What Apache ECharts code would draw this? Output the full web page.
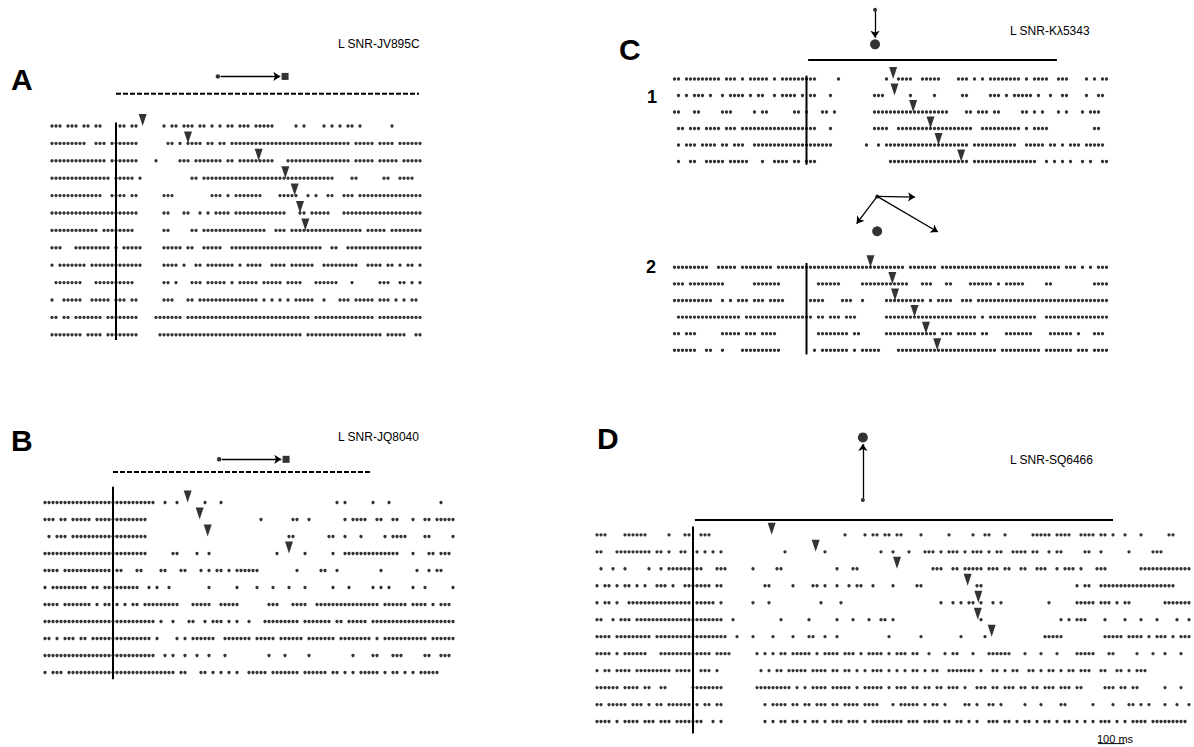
<!DOCTYPE html>
<html lang="en">
<head>
<meta charset="UTF-8">
<title>SNr rasters</title>
<script src="https://cdn.jsdelivr.net/npm/echarts@6/dist/echarts.min.js"></script>
<style>html,body{margin:0;padding:0;background:#fff;}</style>
</head>
<body>
<div id="myChart" style="width:1194px;height:747px;"></div>
<script>
var BIN = 15;   // ms per character of a raster row
var PX = 4;     // px per character

// one string per trial, any non-space char is a spike ('|' only groups 10 bins)
var rasterA = [
  "xxx xxx xx| xx    xx |xx      x |xx xxx xx |x x xx xxx| xxxxx    | x x    x |x x xx x  |     x    |   ",
  "xxxxxxxxx | xxx xxxxx|xx       x|x x xxxx x|x xx xxxxx|xxxxxxxxxx|xxxxxxxxxx|xxxxx xxxx|x xxxx xxx|xxx",
  "xxxxxxxxxx|xxxx xxxxx|xx    x   |  xxx xxxx|xxx xx xxx|xxxxxx   x|xxxxxxxxxx|xxxxx xxxx|x xxxxx xx|xxx",
  "xxxxxxxxxx|xxxxx xxxx|x x       |     xx xx|xxxxxxxxxx|xxxxxxxxxx|xxxxxxxxxx|x    xx   |   xx  xxx|x  ",
  "xxxxxxxxxx|xxx  xxxx |xx      xx|x         |xxx x xxxx|xxx    xxx|xx  x x  x|x  xxx xxx|xxxxxxxxxx|xxx",
  "xxxxxxxxxx|xxxxxxxxxx|xx      xx|   xx  x x| xxxx xxxx|xxxxxxxxx |  xx xxxxx|   xxxxxxx|xxxxxxxxxx|xxx",
  "xxxxxxxxxx|xx xxxxxxx|x       xx|     xx xx|xxxxxxxxxx|xxxx  xxx |xxxxxxxxxx|xxxxxxxx x|xxxx xxxxx|xxx",
  "xxx   xxxx|xxxxx x xx|xxx     xx|xxx xx  xx|xxx  xxxxx|xxxxxxxxxx|xxxxxxxx  |xx  xxxxxx|xxxxxxxxxx|xxx",
  "x xxxxxxx |xxxxxxxxxx|xxx     xx|xx x  xx x|xxxxxx x x|xxx  xxxx |xxxxxx  xx|xxxxxxx  x|xxx xx x x|x x",
  " xxxxxxx  | xxxxxxxxx|x       xx| x   xxx x|xxxx x xxx|xx xxxxx x|xxx   xxxx|xx   x    |  xxx  xx |x x",
  "x  xxxxx  |xxxxx xxx |xx      xx|x   xx xxx|xxxxxxxxxx|xx x x x x| xxxxx  x |  xxx xxxx|x xxx x x |xx ",
  "xx xx xxxx|xxx xxxxxx|xx    xxxx|xxx xxxxxx|xxxxxxxxxx|xxxxxxxxxx|xxxxx xxxx|xxxxxxxxxx|x xxxxxxxx|xxx",
  "xxxxxxxx x|xxx xxxxxx|xx     xxx|xxxxxxxxxx|xxxxxxxxxx|xxxxxxxxxx|xxx xxxxxx|xxxxxxxxxx|xxx xxxxx | xx"
];
var rasterB = [
  "xxxxxxxxxx|xxxxxxxxxx|xxxxxxxx  |x  x      |x   x     |          |          |   x x    |  x   x   |         x|   ",
  "xxx xx xxx|xx xxxxxxx|xxxxxx    |          |          |    x     |  xx  x   |     x xxx|x  xx  xx |  x  xx xx|xxx",
  " x xxx xxx|xxxxxxxxxx|xxxxxx    |          |          |          | xx       | xx  x   x|     x xxx|x    xx   |  x",
  "xxxxxxxxxx|xxxxxxxxxx|xxxxxx    |  xx    x | x        |        x |     x    |  x  xxxxx|xxxxxxxxx |  x   xx x|xx ",
  "xxxx xxxxx|xxxxxxx xx|   xx    x|x   xx   x| x xx x xx|xxxx      |   x     x|x  x      |    x     |   x  x xx|   ",
  "x xxxxxxxx|x xx xxxxx|xxxx  x x | x        | x      x |   x   x  | x   x    |  x   x   |  x x x   |  x  x    |  x",
  "xxxx xxxxx|xx x xx x |x xx xxxxx|xxxx   xxx|xx  xxxxx |      xxx |  xxxx  xx|xxxxxxxxxx|xxxx xxxxx|x xxxx x x|xx ",
  "xxxxxxxxxx|xxxxxxxxxx|xxxxxxxx x|  x   xx  |x xxx x x | x   xxxxx|xxxx xxxxx|xx xx xxxx|x xxxxxxxx|xxxxxxxxxx|xxx",
  "xx x xxx x|x xxxxxxxx|xxxxxxx x |   x x xxx|xxx  xxxxx|xx xxxxx x|xxxxx xxxx|xxx xxxxxx|xx x xxxxx|xxxxxx xxx|xxx",
  "xxxxxxxxxx|xxxxxxxxxx|xxxxxxxx  |x x  x  x | x   x    |      x   |x     x   |       x  |  xx   xxx|     xx  x|xx ",
  "x xxx xxxx|xxxxxxxxxx|xxxxxxxxxx|xxx xx   x|x x x x x | xxxxx xxx|xxxx xxxxx|x xx x x x|xxxx x xx |x x xxxxx |   "
];
var rasterC1 = [
  "xx xxxxxxx|xx xxx x x|xxxx x xxx|xxxxxx    | x        |   x  xxxx|  xxxxx   | xxx x x x|xxxxxxx x |xxxx  xxx |   x x xx",
  " x x xxx x|  x xxxx x| xx  x xxx|x x xx   x|          |xxx      x|     x    |  xx     x|xx x xxxxx| x  x  xx |   x  xx ",
  "xx   xx   |  xxx     |x xx      |xx x   xx |x         |xxxxxxxxxx|xxxxxxxxx |   xx xxx |xx     xx |x x   x x |  x xxx  ",
  " xx xxx xx|xx xxx xxx|xxxxxxxxxx|xxxxxx   x|          |xxxx  xxxx|xxxxxxxxxx|xxxxx  xxx|xxxxxxx x |xxxx      |     xx  ",
  " x xxx xxx|x xx xxx  |xxxxxxxxxx|xxxxxxxxxx|        x | x xxxxxxx|xxxxxxxxxx|xxxx xxxxx|xxxxxx  xx|xxx xx x x|xx xxxxx ",
  " x  xx  xx|xxx xxxxx |  x  xxxx |xx xxx    |          |    xxxxxx|xxxxxxxxxx|xxxx xxxxx|xxxxxxxxxx|x  x x x x|  x x  xx"
];
var rasterC2 = [
  "xxxxxxxxx | xxxxx xxx|xxxxx xxxx|xxxxxxxxxx|xxxxxxxxxx|xxxxxxxx x|xxxxxx xxx|xxxxxxxxxx|xxxxxxxxxx|xxxxxxx xx|x x x xxx",
  "xxx xxxxxx|xxx       |xxxxxxx   |      xxxx|xx     xxx|xxxxxxxxx |  xxx   xx|    xxxxxx| x xxxxx  |   xx     |     xxxx",
  "xxxxxxxxxx|  x x xxx |xxx xxxx  |    xxxx  |  xxx  x  |   xxxxxxx|xxx x xxxx|  xxx xxxx|xxxxxxxxxx|xxxxxxxxxx|xxxxxxxxx",
  " xxxxxxxxx|xxxxxxx xx|xxxxxxxxxx|xxxxx xx x|xx xxx    |   xxxxxxx|xxxxxxxxxx|xxxxxx x x|xxxxxxxxxx|x  xxxxxxx|xxxxxxxxx",
  "xx xxx    |  xxxxx xx|x xxxx    |      xxxx|xxxx xx   |   xxxxxxx|xxxxxx xxx| xxxxx xx |   xxxxxxx|    xxxxxx| x   xxx ",
  "xxxxxx  xx|  x    xxx|xxxxxxx   |     x xxx|xxxx x xxx|xx    xxxx|xxxxxxxxxx|xxxxxxxxxx|x xxxxxxxx|xx xxxxxxx| xxx xxxx"
];
var rasterD = [
  "xxx    xxx|xxx     x |  xx  xxx |          |          |          |  x    x x|x xx xx   | x      x |    x  xx |  x      x|xxxx xxxx | xxxx xx x|  x   x   |   xx    ",
  "xx   xxxxx|xxxx xx x | xx  x x x| x        |       x  |       x  |          | x  x   x |  xxx x xx|x x xxx x |xx  xxxx x|x  x xx   |  xx  x   |   x     x|xx       ",
  " x  x  x  |   x  x xx|xxxxxxx   |xxx      x|     xx   |          |x   xx    |          |    xxx  x|x xxxxx xx|x xx  xx  |xxx  x xxx| x   xxx  |      xxxx|xxxxxxxxx",
  "x xx x xx |x x  xxx x|  xxxxxxx |xx        |  xx     x|    xx x  |x  x xx  x|    x     |xx        |     xx   |          |          |x xx  xxxx|xxxxxxxxxx|xxxxx    ",
  "x xx x  xx|xxxxxxxxxx|xxxx xxxxx| x       x|   x      |      x   | x        |          |      x  x| x xx x  x| x        |   x      |xxxxx xxx |x xx      |  xxxxxxx",
  "xx  x xxx |xxxxxxxxxx|xxxxxxxxxx|xx  x     |      x   |   x      |x   x   x | xx x     |          |      x   |          |      x x |xxx    x  |  x   x   |x    x  x",
  "xxxx xxxxx|xxxx xxxxx|xxxxxxxxxx|xxx  x   x|    x    x|   xx  x  |x         |   x      | x        | x     x  |          |  xxxxx   |       xxx|xx xxxx x |xxx x xxx",
  "xxxx x xxx|xxx   xxxx|xxxxxxxxx |xxxx      |x x x xx x|xxxx x xxx|x xxx x xx|xx x xxx x|x  x   x x|x   x   xx|xxxx   x  | x   x    |xxxxx   xx|     x   x|  x   x  ",
  "x xx xxxx |xxxxxxxxx |xxxx  xxx |x         | x x xx xx|xxx xxxx x|x xx x x x|xx x x x x|x x xx  xx|xxxxx x  x|x x xx  xx| x xx x xx| xxx  xx  |xx x xxx  |         ",
  "xxxxxx xxx|x xx  xx  |    xxxxxx|xx        |xxxxxxxxx |x x xxxx x|xxxx x xxx|xx x xxx x|x xx xx xx|x x  xxx x|x xxx xx x|x xxx xxx |xx     xxx| xx xx    |  x   x  ",
  "xx xxxxx x|xx x xx xx|xxxx x xx |xx        |  x xxxx x|x xx xxx x|x xxxx xxx|x   x xxxx|x x xx x  |  xx x  xx| x     x  | x    xx  |    x    x|   xx x x |  x  x  x",
  "xxxx x xxx|x xxx xxx |xxxxxxx  x| x        |  x x xx x|x x xx x x|xx xxx x x|xxxxxxx xx|x xxxx xx |xx x x  xx|x xx x xx |x xx x xx |x x x xxx |x x xxxx x|xxxxxxxx "
];

// arrowhead times (ms after the vertical marker), one per marked trial
var cueA = [100, 270, 535, 635, 670, 690, 710];
var cueB = [280, 325, 355, 660];
var cueC1 = [325, 330, 400, 465, 495, 580];
var cueC2 = [240, 322, 332, 405, 448, 490];
var cueD = [295, 460, 765, 1030, 1070, 1068, 1120];

// stimulus bars and icons (ms)
var barA = [0, 1136], iconA = [382, 634];
var barB = [0, 971], iconB = [398, 649];
var barC1 = [6, 939], targetC1 = 257;
var targetC2 = 265, armsC2 = [407, 188, 493];
var barD = [7, 1575], targetD = 637;
var scaleBar = [1519, 1619];

// layout (pixels and row units)
var L = {
  A:  {x0: 52,    y0: 126,   dy: 17.4,  zero: 16, n: 93,  ymin: -3.4, ymax: 12.4, vline: [-0.2, 12.3]},
  B:  {x0: 45,    y0: 502.5, dy: 17.0,  zero: 17, n: 103, ymin: -3.0, ymax: 10.6, vline: [-0.92, 10.4]},
  C1: {x0: 674.5, y0: 79,    dy: 16.5,  zero: 33, n: 109, ymin: -4.6, ymax: 5.4,  vline: [-0.2, 5.2]},
  C2: {x0: 674.5, y0: 267.3, dy: 16.6,  zero: 33, n: 109, ymin: -4.6, ymax: 5.4,  vline: [-0.26, 5.25]},
  D:  {x0: 597,   y0: 535,   dy: 17.0,  zero: 24, n: 149, ymin: -6.2, ymax: 12.5, vline: [-0.49, 11.7]}
};

var INK = '#000';
var grids = [], xAxes = [], yAxes = [], series = [];

function spikes(rows, zero) {
  var out = [];
  rows.forEach(function (row, r) {
    var s = row.replace(/\|/g, '');
    for (var i = 0; i < s.length; i++) {
      if (s[i] !== ' ') out.push([(i - zero) * BIN, r]);
    }
  });
  return out;
}

function ax(i) { return {xAxisIndex: i, yAxisIndex: i, silent: true, animation: false}; }
function extend(a, b) { for (var k in b) a[k] = b[k]; return a; }

function panel(cfg, rows, cues) {
  var i = grids.length;
  grids.push({left: cfg.x0, top: cfg.y0 + cfg.ymin * cfg.dy,
              width: (cfg.n - 1) * PX, height: (cfg.ymax - cfg.ymin) * cfg.dy});
  xAxes.push({gridIndex: i, type: 'value', min: -cfg.zero * BIN, max: (cfg.n - 1 - cfg.zero) * BIN, show: false});
  yAxes.push({gridIndex: i, type: 'value', inverse: true, min: cfg.ymin, max: cfg.ymax, show: false});
  series.push(extend({type: 'scatter', data: spikes(rows, cfg.zero), symbol: 'circle', symbolSize: 3.3,
                      itemStyle: {color: INK}, clip: false}, ax(i)));
  series.push(extend({type: 'scatter', data: cues.map(function (t, r) { return [t, r - 6 / cfg.dy]; }),
                      symbol: 'triangle', symbolRotate: 180, symbolSize: [8, 12],
                      itemStyle: {color: INK}, clip: false, z: 4}, ax(i)));
  series.push(extend({type: 'line', data: [[0, cfg.vline[0]], [0, cfg.vline[1]]], symbol: 'none',
                      lineStyle: {color: INK, width: 2}, clip: false}, ax(i)));
  return i;
}

function hline(i, bar, y, dash, w) {
  series.push(extend({type: 'line', data: [[bar[0], y], [bar[1], y]], symbol: 'none',
                      lineStyle: {color: INK, width: w, type: dash}, clip: false}, ax(i)));
}
function dots(i, pts, symbol, size) {
  series.push(extend({type: 'scatter', data: pts, symbol: symbol, symbolSize: size,
                      itemStyle: {color: INK}, clip: false, z: 4}, ax(i)));
}
function arrows(i, segs) {
  series.push(extend({type: 'lines', coordinateSystem: 'cartesian2d', polyline: false,
                      data: segs.map(function (s) { return {coords: s}; }),
                      symbol: ['none', 'arrow'], symbolSize: 7,
                      lineStyle: {color: INK, width: 1.3, opacity: 1}, z: 4}, ax(i)));
}

// A
var a = panel(L.A, rasterA, cueA);
hline(a, barA, -1.86, [5, 2], 2);
dots(a, [[iconA[0], -2.85]], 'circle', 4.5);
dots(a, [[iconA[1], -2.85]], 'rect', 7);
arrows(a, [[[iconA[0] + 10, -2.85], [iconA[1] - 18, -2.85]]]);

// B
var b = panel(L.B, rasterB, cueB);
hline(b, barB, -1.8, [5, 2], 2);
dots(b, [[iconB[0], -2.54]], 'circle', 4.5);
dots(b, [[iconB[1], -2.54]], 'rect', 7);
arrows(b, [[[iconB[0] + 10, -2.54], [iconB[1] - 18, -2.54]]]);

// C1
var c1 = panel(L.C1, rasterC1, cueC1);
hline(c1, barC1, -1.15, 'solid', 2);
dots(c1, [[targetC1, -4.2]], 'circle', 4);
dots(c1, [[targetC1, -2.1]], 'circle', 10);
arrows(c1, [[[targetC1, -4.1], [targetC1, -2.5]]]);

// C2
var c2 = panel(L.C2, rasterC2, cueC2);
var armY = [-4.23, -2.63, -2.13];
dots(c2, [[targetC2, -4.27]], 'circle', 4);
dots(c2, [[targetC2, -2.17]], 'circle', 10);
arrows(c2, armsC2.map(function (t, k) { return [[targetC2, -4.27], [t, armY[k]]]; }));

// D
var d = panel(L.D, rasterD, cueD);
hline(d, barD, -0.88, 'solid', 2);
dots(d, [[targetD, -2.05]], 'circle', 4);
dots(d, [[targetD, -5.74]], 'circle', 10);
arrows(d, [[[targetD, -2.15], [targetD, -5.35]]]);
hline(d, scaleBar, 12.3, 'solid', 1);

function label(text, x, y, font) {
  return {type: 'text', x: x, y: y, silent: true,
          style: {text: text, font: font, fill: INK, verticalAlign: 'middle', align: 'left'}};
}
var big = 'bold 30px "Liberation Sans", Arial, sans-serif';
var num = 'bold 18px "Liberation Sans", Arial, sans-serif';
var small = '12px "Liberation Sans", Arial, sans-serif';

var myChart = echarts.init(document.getElementById('myChart'), null, {renderer: 'svg'});
myChart.setOption({
  backgroundColor: '#fff',
  animation: false,
  grid: grids,
  xAxis: xAxes,
  yAxis: yAxes,
  series: series,
  graphic: [
    label('A', 11, 79, big),
    label('B', 11, 440, big),
    label('C', 619, 49, big),
    label('D', 597, 438, big),
    label('1', 647, 97, num),
    label('2', 646, 267, num),
    label('L SNR-JV895C', 338, 44, small),
    label('L SNR-JQ8040', 338, 437, small),
    label('L SNR-K\u03bb5343', 1010, 31, small),
    label('L SNR-SQ6466', 1010, 460, small),
    label('100 ms', 1097, 739, '11px "Liberation Sans", Arial, sans-serif')
  ]
});
</script>
</body>
</html>
